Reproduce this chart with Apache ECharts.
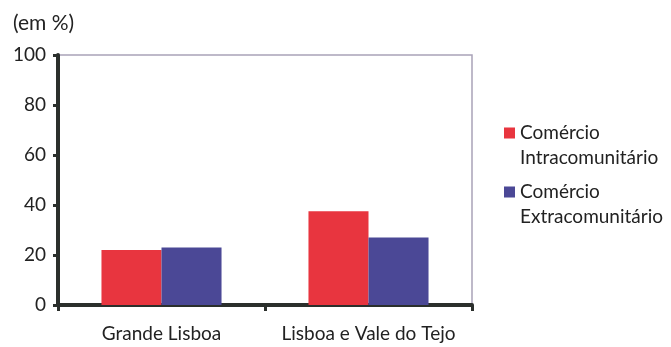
<!DOCTYPE html>
<html><head><meta charset="utf-8">
<script src="https://cdn.jsdelivr.net/npm/echarts@6/dist/echarts.min.js"></script>
<style>html,body{margin:0;padding:0;background:#fff}#c{width:671px;height:347px}</style>
</head><body><div id="c"></div>
<script>
const categories = ["Grande Lisboa", "Lisboa e Vale do Tejo"];
const seriesNames = ["Comércio\nIntracomunitário", "Comércio\nExtracomunitário"];
const intraValues = [22, 37.5];
const extraValues = [23, 27];
const yTicks = [0, 20, 40, 60, 80, 100];

const FONT = "Lato";
const chart = echarts.init(document.getElementById('c'));
chart.setOption({
  backgroundColor: '#fff',
  animation: false,
  textStyle: { fontFamily: FONT },
  title: { text: '(em %)', left: 8, top: 8, textStyle: { fontFamily: FONT, fontSize: 21, fontWeight: 'normal', color: '#222' } },
  legend: {
    orient: 'vertical', left: 499, top: 116, itemWidth: 11, itemHeight: 36, itemGap: 10,
    icon: 'path://M0,0L11,0L11,11L0,11Z M0,36L0.01,36',
    textStyle: { fontFamily: FONT, fontSize: 19, color: '#222', lineHeight: 24.5 },
    data: seriesNames
  },
  grid: { left: 58, right: 199, top: 55, bottom: 42, show: true, borderColor: '#a9a2b8', borderWidth: 1.5 },
  xAxis: {
    type: 'category', data: categories,
    axisLine: { lineStyle: { color: '#2b2f2c', width: 4 } },
    axisTick: { show: true, length: 6, lineStyle: { color: '#2b2f2c', width: 3 } },
    axisLabel: { fontFamily: FONT, fontSize: 19, color: '#222', margin: 19, interval: 0 }
  },
  yAxis: {
    type: 'value', min: 0, max: 100, interval: 20,
    axisLine: { show: true, lineStyle: { color: '#2b2f2c', width: 4 } },
    axisTick: { show: true, length: 5, lineStyle: { color: '#2b2f2c', width: 3 } },
    splitLine: { show: false },
    axisLabel: { fontFamily: FONT, fontSize: 19, color: '#222', margin: 12,
      formatter: v => yTicks.includes(v) ? String(v) : '' }
  },
  series: [
    { name: seriesNames[0], type: 'bar', data: intraValues, barGap: '0%', barCategoryGap: '42%',
      itemStyle: { color: '#e8353f' } },
    { name: seriesNames[1], type: 'bar', data: extraValues,
      itemStyle: { color: '#4b4896' } }
  ]
});
</script></body></html>
